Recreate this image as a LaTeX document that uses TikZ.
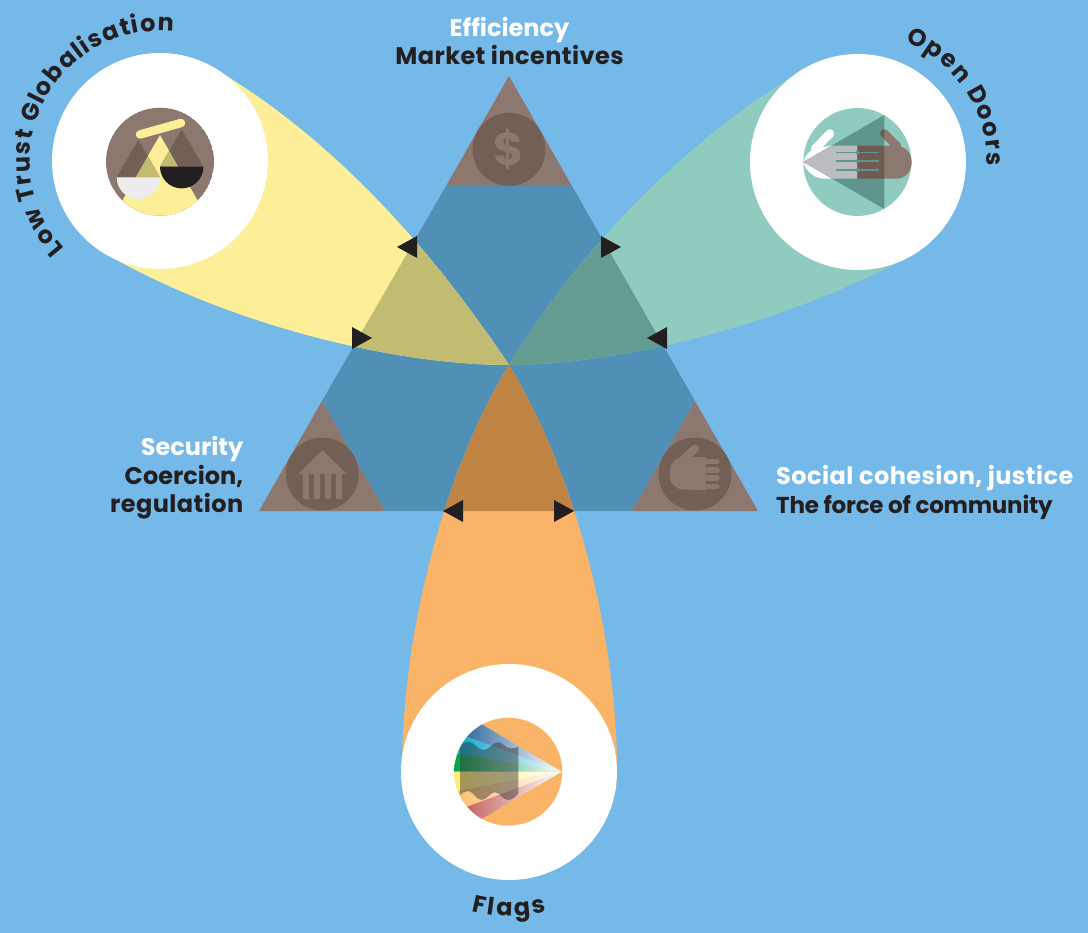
\documentclass[tikz,border=0pt]{standalone}
\usepackage{fontspec}
\setmainfont{Poppins}
\usetikzlibrary{decorations.text}
\definecolor{bgblue}{HTML}{75B9E9}
\definecolor{hexblue}{HTML}{5090B7}
\definecolor{brownA}{HTML}{8C786E}
\definecolor{brownB}{HTML}{735F55}
\definecolor{ylw}{HTML}{FCEF98}
\definecolor{olive}{HTML}{C2BB72}
\definecolor{grn}{HTML}{90CBC0}
\definecolor{grnD}{HTML}{649C92}
\definecolor{grnE}{HTML}{5F958C}
\definecolor{org}{HTML}{F9B468}
\definecolor{orgD}{HTML}{BF8344}
\definecolor{inkk}{HTML}{231F20}
\definecolor{greyH}{HTML}{BBBCBF}
\definecolor{brownH}{HTML}{6F5B50}
\definecolor{fBlue}{HTML}{1E5A96}
\definecolor{fCyan}{HTML}{00A3CC}
\definecolor{fGreen}{HTML}{00A04F}
\definecolor{fYellow}{HTML}{FFEE70}
\definecolor{fOrange}{HTML}{F9BE6C}
\definecolor{fRed}{HTML}{C0504F}
\newcommand{\lsp}[1]{\addfontfeatures{LetterSpace=#1}}
\newcommand{\fanband}[2]{\begin{scope}\clip (561.7,771.7)--#2--cycle;
  \shade[left color=#1,middle color=#1!72!white,right color=white] (454,700) rectangle (561.7,850);\end{scope}}
\tikzset{
  lbl/.style={font=\fontsize{24}{24}\selectfont\bfseries,inner sep=0pt,text=inkk},
  lblw/.style={lbl,text=white},
  tip/.style={fill=inkk,draw=none},
  ring/.style={fill=white,draw=none},
  disc/.style={fill=brownB,draw=none},
  glyph/.style={fill=brownA,draw=none},
  fingerg/.style={draw=brownA,line width=5.6pt,line cap=round}
}
\def\hexpath{(446,186)--(572,186)--(695,401)--(632,511)--(385,511)--(322,401)--cycle}
\def\ylobe{(509,365) .. controls (440,262) and (340,140) .. (205,63) -- (104,253) .. controls (235,328) and (400,365) .. (509,365)}
\def\grlobe{(509,365) .. controls (570,265) and (670,150) .. (800,72) -- (910,256) .. controls (783,325) and (618,365) .. (509,365)}
\def\orlobe{(509,365) .. controls (445,470) and (402,630) .. (402,772) -- (617,772) .. controls (617,630) and (573,470) .. (509,365)}
\def\hndL{(857.3,145.7)--(830,145.7)--(812,150) .. controls (806,155) .. (803.3,162) .. controls (806,172) and (815,178.7) .. (825,178.7)--(857.3,178.7)--cycle}
\def\hndR{(857.3,145.7)--(895.7,145.7) .. controls (905,145.7) and (911.7,153) .. (911.7,162) .. controls (911.7,172) and (905,178.7) .. (895.7,178.7)--(857.3,178.7)--cycle}
\def\lens{(803.3,162)--(884.3,115)--(884.3,209)--cycle}
\begin{document}
\begin{tikzpicture}[x=1pt,y=-1pt]
\useasboundingbox (0,0) rectangle (1088,933);
\fill[bgblue] (0,0) rectangle (1088,933);
% central hexagon and corner triangles
\fill[hexblue] \hexpath;
\fill[brownA] (509,76)--(572,186)--(446,186)--cycle;
\fill[brownA] (322,401)--(385,511)--(259,511)--cycle;
\fill[brownA] (695,401)--(758,511)--(632,511)--cycle;
% lobes
\fill[ylw] \ylobe;
\fill[grn] \grlobe;
\fill[org] \orlobe;
\begin{scope}\clip \hexpath; \fill[olive] \ylobe; \end{scope}
\begin{scope}\clip \hexpath; \fill[grnD] \grlobe; \end{scope}
\begin{scope}\clip \hexpath; \fill[orgD] \orlobe; \end{scope}
% rings
\node[ring,circle,minimum size=216pt,inner sep=0pt] (ringY) at (160,161) {};
\node[ring,circle,minimum size=216pt,inner sep=0pt] (ringG) at (858,162) {};
\node[ring,circle,minimum size=216pt,inner sep=0pt] (ringO) at (509,772) {};
% arrow tips
\fill[tip] (417,236)--(417,258)--(397,247)--cycle;
\fill[tip] (352,327)--(352,349)--(372,338)--cycle;
\fill[tip] (601,236)--(601,258)--(621,247)--cycle;
\fill[tip] (667,327)--(667,349)--(647,338)--cycle;
\fill[tip] (463,500)--(463,522)--(443,511)--cycle;
\fill[tip] (554,500)--(554,522)--(574,511)--cycle;
% dollar disc
\node[disc,circle,minimum size=73pt,inner sep=0pt] (dTop) at (509,149.3) {};
\node[font=\fontsize{46}{46}\selectfont\bfseries,text=brownA,inner sep=0pt] (dollar) at (509,149.3) {\$};
% bank disc
\node[disc,circle,minimum size=73pt,inner sep=0pt] (dLeft) at (322.3,474) {};
\fill[glyph] (322.3,450)--(346.7,474)--(298.3,474)--cycle;
\fill[glyph] (303.3,474) rectangle (309.3,499.3);
\fill[glyph] (314,474) rectangle (320,499.3);
\fill[glyph] (325,474) rectangle (331,499.3);
\fill[glyph] (336,474) rectangle (342,499.3);
% hand disc
\node[disc,circle,minimum size=73pt,inner sep=0pt] (dRight) at (695,474) {};
\draw[fingerg,line width=8pt] (695,448.5)--(683,460);
\fill[glyph,rounded corners=13pt] (670,457) rectangle (706,489.5);
\fill[glyph] (690,457) rectangle (706,489.5);
\draw[fingerg] (704,461.5)--(717,461.5);
\draw[fingerg] (704,470)--(717,470);
\draw[fingerg] (704,478)--(717,478);
\draw[fingerg] (704,486.5)--(717,486.5);
% scales icon
\begin{scope}
\clip (160,161.7) circle (54);
\fill[brownA] (160,161.7) circle (54);
\fill[ylw] (160,135)--(225,248)--(95,248)--cycle;
\fill[brownB] (138.3,140)--(160,177.3)--(116.7,177.3)--cycle;
\fill[brownB] (181.7,129.3)--(203.3,166.7)--(160,166.7)--cycle;
\begin{scope}
\clip (160,135)--(225,248)--(95,248)--cycle;
\fill[olive] (138.3,140)--(160,177.3)--(116.7,177.3)--cycle;
\fill[olive] (181.7,129.3)--(203.3,166.7)--(160,166.7)--cycle;
\end{scope}
\fill[white!93!black] (116.7,177.3) arc[start angle=180,end angle=0,radius=21.7] -- cycle;
\fill[inkk] (160,166.7) arc[start angle=180,end angle=0,radius=21.7] -- cycle;
\draw[ylw,line width=8.5pt,line cap=round] (140,134.5)--(181,123);
\end{scope}
% hands icon
\fill[grn] (857.3,162) circle (54);
\fill[white] \hndL;
\draw[white,line width=8.5pt,line cap=round] (830,133.5)--(815,149);
\fill[brownA] \hndR;
\draw[brownA,line width=8.5pt,line cap=round] (884.3,133.5)--(897,146);
\fill[grnE] \lens;
\begin{scope}\clip \lens;
\fill[greyH] \hndL;
\fill[brownH] \hndR;
\draw[brownH,line width=8.5pt,line cap=round] (884.3,133.5)--(897,146);
\end{scope}
\draw[grnE,line width=1.6pt] (836,152.7)--(879,152.7);
\draw[grnE,line width=1.6pt] (836,161.3)--(879,161.3);
\draw[grnE,line width=1.6pt] (836,170.3)--(879,170.3);
\fill[grnE] (857.3,152.7) circle (2) (857.3,161.3) circle (2) (857.3,170.3) circle (2);
% flags icon
\fill[org] (508.3,771.7) circle (54);
\begin{scope}
\clip (508.3,771.7) circle (54);
\fanband{fBlue}{(465.7,714.8)--(447.7,729.7)}
\fanband{fCyan}{(447.7,729.7)--(436.4,749.6)}
\fanband{fGreen}{(436.4,749.6)--(432.5,771.7)}
\fanband{fYellow}{(432.5,771.7)--(437.6,794.9)}
\fanband{fOrange}{(437.6,794.9)--(448.4,813.7)}
\fanband{fRed}{(448.4,813.7)--(466.9,827.6)}
\clip (561.7,771.7)--(465.7,714.8)--(447.7,729.7)--(436.4,749.6)--(432.5,771.7)--(437.6,794.9)--(448.4,813.7)--(466.9,827.6)--cycle;
\fill[inkk!80!brownB,opacity=0.45] (460,748.3) .. controls (462,743) and (465,741.7) .. (468.3,741.7) .. controls (475,741.7) and (477,750) .. (483.3,750) .. controls (490,750) and (492,742.3) .. (498.3,742.3) .. controls (503,742.3) and (505,748.3) .. (511.7,748.3) .. controls (514,748.3) and (516,748) .. (518.3,746.7) -- (518.3,793.3) .. controls (516,797) and (512,800) .. (508.3,800) .. controls (502,800) and (500,792.3) .. (495,792.3) .. controls (490,792.3) and (487,800) .. (481.7,800) .. controls (476,800) and (473,791) .. (468.3,791) .. controls (465,791) and (462,793) .. (460,795) -- cycle;
\end{scope}
% labels
\node[lblw,anchor=base] (l1) at (509.5,37) {Efficiency};
\node[lbl,anchor=base] (l2) at (509.5,65) {\lsp{1.8}Market incentives};
\node[lblw,anchor=base east] (l3) at (243.5,456) {Security};
\node[lbl,anchor=base east] (l4) at (243.5,484) {Coercion,};
\node[lbl,anchor=base east] (l5) at (243.5,512) {\lsp{1.8}regulation};
\node[lblw,anchor=base west] (l6) at (776,484) {\lsp{1.9}Social cohesion, justice};
\node[lbl,anchor=base west,font=\fontsize{23}{23}\selectfont\bfseries] (l7) at (776,513) {\lsp{-1}The force of community};
% arc labels
\path[decorate,decoration={text along path,text align=fit to path,text={|\fontsize{24}{24}\selectfont\bfseries\color{inkk}|Low Trust Globalisation}}]
  (160,161) ++(-222.5:130) arc[start angle=-222.5,end angle=-84,radius=130];
\path[decorate,decoration={text along path,text align=fit to path,text={|\fontsize{24}{24}\selectfont\bfseries\color{inkk}|Open Doors}}]
  (858,162) ++(-68.5:129) arc[start angle=-68.5,end angle=1.5,radius=129];
\path[decorate,decoration={text along path,text align=fit to path,text={|\fontsize{24}{24}\selectfont\bfseries\color{inkk}|Flags}}]
  (509,772) ++(105:144) arc[start angle=105,end angle=75,radius=144];
\end{tikzpicture}
\end{document}
